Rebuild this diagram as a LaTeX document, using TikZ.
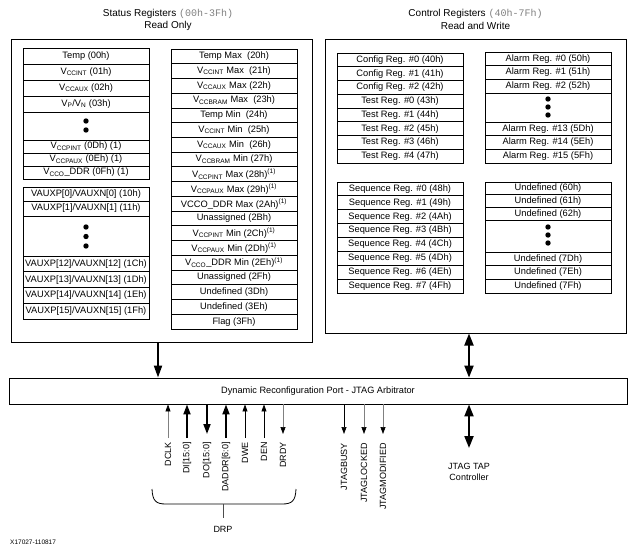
\documentclass[tikz,border=0pt]{standalone}
\usepackage{fontspec}
\setmainfont{Liberation Sans}
\setmonofont{Liberation Mono}
\usetikzlibrary{arrows.meta}
\newcommand\vsub[1]{\textsubscript{#1}}
\newcommand\Reg[5]{\node[reg, minimum height={(#4-#3)*1pt}] (#1) at (#2,{(#3+#4)/2}) {#5};}
\newcommand\RowReg[6]{\node[reg, minimum height=#4pt] (#1) at (#2,{#3+(#5+0.5)*#4}) {#6};}
\begin{document}
\begin{tikzpicture}[x=1pt,y=-1pt,
  reg/.style={draw, line width=0.8pt, minimum width=126pt, inner sep=0pt, font=\fontsize{9.3}{10}\selectfont},
  panel/.style={draw, line width=1pt, inner sep=0pt},
  title/.style={font=\fontsize{10}{11}\selectfont, inner sep=0pt},
  lbl/.style={font=\fontsize{9}{10}\selectfont, inner sep=0pt},
  siglbl/.style={font=\fontsize{9}{10}\selectfont, inner sep=0pt, rotate=90, anchor=east},
  thick arrow/.style={line width=2pt, -{Triangle[length=12pt,width=8pt]}},
  thick both/.style={line width=2pt, {Triangle[length=12pt,width=9pt]}-{Triangle[length=12pt,width=9pt]}},
  thin arrow/.style={line width=0.7pt, -{Triangle[length=7pt,width=5pt,color=black]}},
  grey arrow/.style={line width=0.7pt, draw=gray, -{Triangle[length=7pt,width=5pt,color=black]}},
  mid arrow/.style={line width=1.8pt, -{Triangle[length=10pt,width=7pt]}},
  dot/.style={fill=black}
]
\useasboundingbox (0,0) rectangle (637,549);

% titles
\node[title] (t1a) at (168,14) {Status Registers {\color{gray}\ttfamily(00h-3Fh)}};
\node[title] (t1b) at (168,26) {Read Only};
\node[title] (t2a) at (475.5,14) {Control Registers {\color{gray}\ttfamily(40h-7Fh)}};
\node[title] (t2b) at (475.5,26) {Read and Write};

% panels
\node[panel, minimum width=301pt, minimum height=303pt] (stat) at (161.5,190.5) {};
\node[panel, minimum width=301pt, minimum height=294pt] (ctrl) at (475.5,186) {};

% status column A
\Reg{a0}{86}{48}{64}{Temp (00h)}
\Reg{a1}{86}{64}{80}{V\vsub{CCINT} (01h)}
\Reg{a2}{86}{80}{96}{V\vsub{CCAUX} (02h)}
\Reg{a3}{86}{96}{112}{V\vsub{P}/V\vsub{N} (03h)}
\Reg{a4}{86}{112}{140}{}
\Reg{a5}{86}{140}{153}{V\vsub{CCPINT} (0Dh) (1)}
\Reg{a6}{86}{153}{166}{V\vsub{CCPAUX} (0Eh) (1)}
\Reg{a7}{86}{166}{179}{V\vsub{CCO}\_DDR (0Fh) (1)}
\fill[dot] (86,121) circle (2.7pt) (86,130) circle (2.7pt);

% status column B
\Reg{b0}{86}{187}{201}{VAUXP[0]/VAUXN[0] (10h)}
\Reg{b1}{86}{201}{216}{VAUXP[1]/VAUXN[1] (11h)}
\Reg{b2}{86}{216}{256}{}
\RowReg{b3}{86}{256}{15.75}{0}{VAUXP[12]/VAUXN[12] (1Ch)}
\RowReg{b4}{86}{256}{15.75}{1}{VAUXP[13]/VAUXN[13] (1Dh)}
\RowReg{b5}{86}{256}{15.75}{2}{VAUXP[14]/VAUXN[14] (1Eh)}
\RowReg{b6}{86}{256}{15.75}{3}{VAUXP[15]/VAUXN[15] (1Fh)}
\fill[dot] (86,227) circle (2.7pt) (86,236.5) circle (2.7pt) (86,246) circle (2.7pt);

% status column C
\def\ch{14.7368}
\RowReg{c0}{234}{49}{\ch}{0}{Temp Max~ (20h)}
\RowReg{c1}{234}{49}{\ch}{1}{V\vsub{CCINT} Max~ (21h)}
\RowReg{c2}{234}{49}{\ch}{2}{V\vsub{CCAUX} Max (22h)}
\RowReg{c3}{234}{49}{\ch}{3}{V\vsub{CCBRAM} Max~ (23h)}
\RowReg{c4}{234}{49}{\ch}{4}{Temp Min~ (24h)}
\RowReg{c5}{234}{49}{\ch}{5}{V\vsub{CCINT} Min~ (25h)}
\RowReg{c6}{234}{49}{\ch}{6}{V\vsub{CCAUX} Min~ (26h)}
\RowReg{c7}{234}{49}{\ch}{7}{V\vsub{CCBRAM} Min (27h)}
\RowReg{c8}{234}{49}{\ch}{8}{V\vsub{CCPINT} Max (28h)\textsuperscript{(1)}}
\RowReg{c9}{234}{49}{\ch}{9}{V\vsub{CCPAUX} Max (29h)\textsuperscript{(1)}}
\RowReg{c10}{234}{49}{\ch}{10}{VCCO\_DDR Max (2Ah)\textsuperscript{(1)}}
\RowReg{c11}{234}{49}{\ch}{11}{Unassigned (2Bh)}
\RowReg{c12}{234}{49}{\ch}{12}{V\vsub{CCPINT} Min (2Ch)\textsuperscript{(1)}}
\RowReg{c13}{234}{49}{\ch}{13}{V\vsub{CCPAUX} Min (2Dh)\textsuperscript{(1)}}
\RowReg{c14}{234}{49}{\ch}{14}{V\vsub{CCO}\_DDR Min (2Eh)\textsuperscript{(1)}}
\RowReg{c15}{234}{49}{\ch}{15}{Unassigned (2Fh)}
\RowReg{c16}{234}{49}{\ch}{16}{Undefined (3Dh)}
\RowReg{c17}{234}{49}{\ch}{17}{Undefined (3Eh)}
\RowReg{c18}{234}{49}{\ch}{18}{Flag (3Fh)}

% control: config / test
\RowReg{d0}{400}{53}{13.75}{0}{Config Reg. \#0 (40h)}
\RowReg{d1}{400}{53}{13.75}{1}{Config Reg. \#1 (41h)}
\RowReg{d2}{400}{53}{13.75}{2}{Config Reg. \#2 (42h)}
\RowReg{d3}{400}{53}{13.75}{3}{Test Reg. \#0 (43h)}
\RowReg{d4}{400}{53}{13.75}{4}{Test Reg. \#1 (44h)}
\RowReg{d5}{400}{53}{13.75}{5}{Test Reg. \#2 (45h)}
\RowReg{d6}{400}{53}{13.75}{6}{Test Reg. \#3 (46h)}
\RowReg{d7}{400}{53}{13.75}{7}{Test Reg. \#4 (47h)}

% control: alarm
\RowReg{e0}{548}{52}{13.67}{0}{Alarm Reg. \#0 (50h)}
\RowReg{e1}{548}{52}{13.67}{1}{Alarm Reg. \#1 (51h)}
\RowReg{e2}{548}{52}{13.67}{2}{Alarm Reg. \#2 (52h)}
\Reg{e3}{548}{93}{122}{}
\RowReg{e4}{548}{122}{13.67}{0}{Alarm Reg. \#13 (5Dh)}
\RowReg{e5}{548}{122}{13.67}{1}{Alarm Reg. \#14 (5Eh)}
\RowReg{e6}{548}{122}{13.67}{2}{Alarm Reg. \#15 (5Fh)}
\fill[dot] (548,99) circle (2.7pt) (548,107) circle (2.7pt) (548,115) circle (2.7pt);

% control: sequence
\RowReg{f0}{400}{182}{13.875}{0}{Sequence Reg. \#0 (48h)}
\RowReg{f1}{400}{182}{13.875}{1}{Sequence Reg. \#1 (49h)}
\RowReg{f2}{400}{182}{13.875}{2}{Sequence Reg. \#2 (4Ah)}
\RowReg{f3}{400}{182}{13.875}{3}{Sequence Reg. \#3 (4Bh)}
\RowReg{f4}{400}{182}{13.875}{4}{Sequence Reg. \#4 (4Ch)}
\RowReg{f5}{400}{182}{13.875}{5}{Sequence Reg. \#5 (4Dh)}
\RowReg{f6}{400}{182}{13.875}{6}{Sequence Reg. \#6 (4Eh)}
\RowReg{f7}{400}{182}{13.875}{7}{Sequence Reg. \#7 (4Fh)}

% control: undefined
\RowReg{g0}{548}{182}{12.67}{0}{Undefined (60h)}
\RowReg{g1}{548}{182}{12.67}{1}{Undefined (61h)}
\RowReg{g2}{548}{182}{12.67}{2}{Undefined (62h)}
\Reg{g3}{548}{220}{252}{}
\RowReg{g4}{548}{252}{13.67}{0}{Undefined (7Dh)}
\RowReg{g5}{548}{252}{13.67}{1}{Undefined (7Eh)}
\RowReg{g6}{548}{252}{13.67}{2}{Undefined (7Fh)}
\fill[dot] (548,227) circle (2.7pt) (548,235) circle (2.7pt) (548,243) circle (2.7pt);

% DRP / JTAG arbitrator
\node[panel, line width=0.9pt, minimum width=618pt, minimum height=26pt] (drp) at (318,391)
  {\fontsize{9.2}{10}\selectfont Dynamic Reconfiguration Port - JTAG Arbitrator};

\coordinate (sx) at (158,0);
\coordinate (cx) at (469,0);
\draw[thick arrow] (stat.south -| sx) -- (drp.north -| sx);
\draw[thick both] (ctrl.south -| cx) -- (drp.north -| cx);

% JTAG TAP
\coordinate (tap) at (469,448);
\draw[thick both] (drp.south -| tap) -- (tap);
\node[lbl, align=center] (taplbl) at (469,472) {JTAG TAP\\[1pt]Controller};

% DRP signals
\coordinate (dclk) at (168,438);
\coordinate (di) at (187,438);
\coordinate (do) at (207,434);
\coordinate (daddr) at (226,438);
\coordinate (dwe) at (245,438);
\coordinate (den) at (264,438);
\coordinate (drdy) at (283,434);
\coordinate (jbusy) at (344,434);
\coordinate (jlock) at (364,434);
\coordinate (jmod) at (383,434);

\draw[grey arrow] (dclk) -- (drp.south -| dclk);
\draw[mid arrow] (di) -- (drp.south -| di);
\draw[mid arrow] (drp.south -| do) -- (do);
\draw[mid arrow] (daddr) -- (drp.south -| daddr);
\draw[thin arrow] (dwe) -- (drp.south -| dwe);
\draw[thin arrow] (den) -- (drp.south -| den);
\draw[grey arrow] (drp.south -| drdy) -- (drdy);
\draw[thin arrow] (drp.south -| jbusy) -- (jbusy);
\draw[grey arrow] (drp.south -| jlock) -- (jlock);
\draw[grey arrow] (drp.south -| jmod) -- (jmod);

\node[siglbl] (ldclk) at (168,442) {DCLK};
\node[siglbl] (ldi) at (187,442) {DI[15:0]};
\node[siglbl] (ldo) at (207,442) {DO[15:0]};
\node[siglbl] (ldaddr) at (226,442) {DADDR[6:0]};
\node[siglbl] (ldwe) at (245,442) {DWE};
\node[siglbl] (lden) at (264,442) {DEN};
\node[siglbl] (ldrdy) at (283,442) {DRDY};
\node[siglbl] (ljbusy) at (344,443) {JTAGBUSY};
\node[siglbl] (ljlock) at (364,443) {JTAGLOCKED};
\node[siglbl] (ljmod) at (383,443) {JTAGMODIFIED};

% DRP brace
\coordinate (bl) at (152,489);
\coordinate (br) at (296,489);
\coordinate (bm) at (223,504);
\draw[line width=0.8pt] (bl) .. controls (152.5,501) and (156,504) .. (166,504) -- (282,504)
  .. controls (292,504) and (295.5,501) .. (br);
\node[lbl] (drplbl) at (223,529) {DRP};
\draw[line width=0.8pt, draw=gray!60!black] (bm) -- (drplbl.north |- 0,518);

\node[font=\fontsize{6.5}{7}\selectfont, inner sep=0pt, anchor=west] (fig) at (10,542) {X17027-110817};
\end{tikzpicture}
\end{document}
